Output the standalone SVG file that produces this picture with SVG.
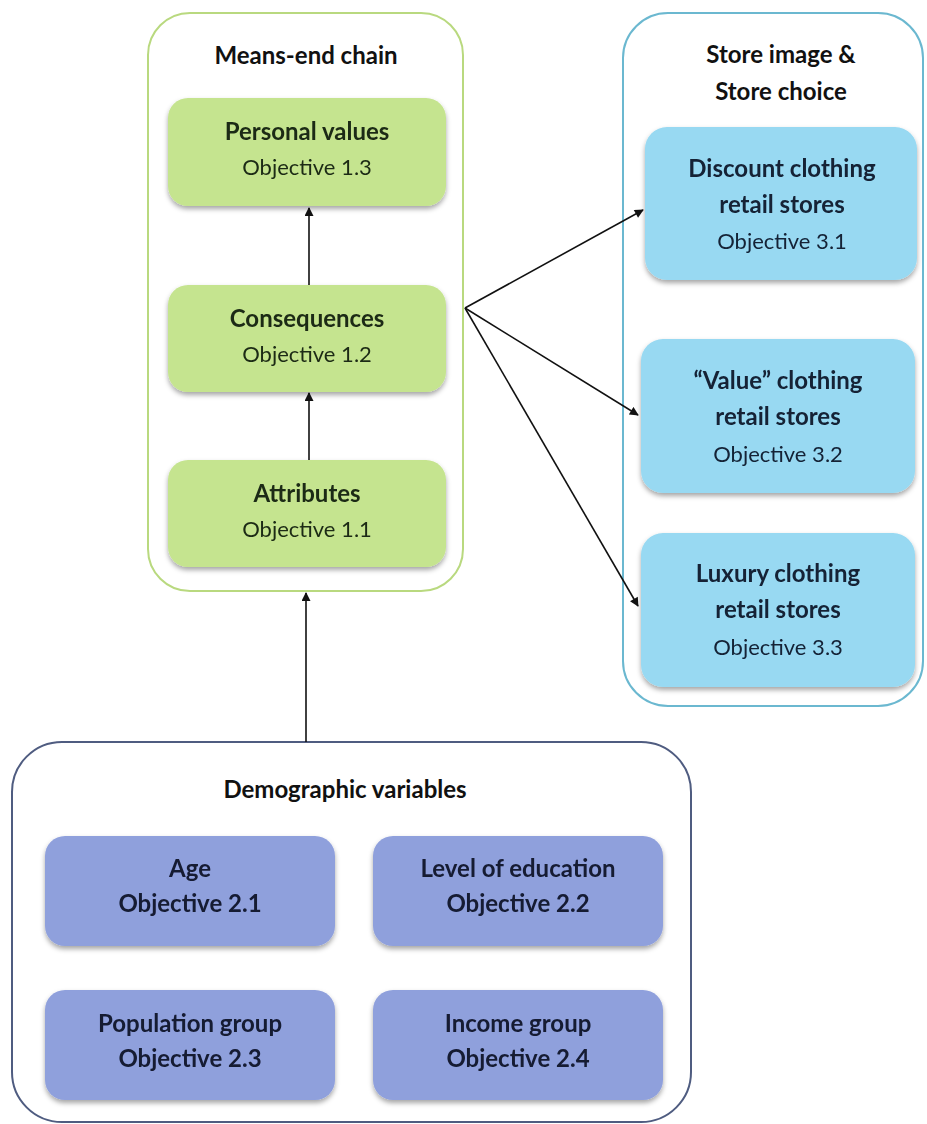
<svg xmlns="http://www.w3.org/2000/svg" width="927" height="1124" viewBox="0 0 927 1124">
  <style>
    .t { font-family: Lato, "Open Sans", "Liberation Sans", sans-serif; font-size: 22px; text-anchor: middle; }
    .b { font-weight: bold; font-size: 24px; }
    .green { fill: #c5e48f; }
    .blue { fill: #98d9f2; }
    .purple { fill: #8fa0dc; }
    .gtext { fill: #1c2a14; }
    .btext { fill: #122236; }
    .ptext { fill: #141a33; }
    .conn { stroke: #111; stroke-width: 1.6; fill: none; marker-end: url(#arrow); }
  </style>
  <defs>
    <marker id="arrow" viewBox="0 0 10 10" refX="9" refY="5" markerWidth="10" markerHeight="9" orient="auto-start-reverse" markerUnits="userSpaceOnUse">
      <path d="M0,0 L10,5 L0,10 z" fill="#111"/>
    </marker>
    <filter id="shadow" x="-10%" y="-10%" width="120%" height="130%">
      <feDropShadow dx="0" dy="3" stdDeviation="2.5" flood-color="#000" flood-opacity="0.35"/>
    </filter>
  </defs>
  <rect width="927" height="1124" fill="#fff"/>

  <!-- Means-end chain container -->
  <g id="means-end-chain">
    <rect x="148" y="13" width="315" height="578" rx="42" fill="#fff" stroke="#b9d97f" stroke-width="2"/>
    <text class="t b" x="306" y="64" fill="#111">Means-end chain</text>
  </g>
  <g id="personal-values" filter="url(#shadow)">
    <rect class="green" x="168" y="98" width="278" height="108" rx="20"/>
    <text class="t b gtext" x="307" y="140">Personal values</text>
    <text class="t gtext" x="307" y="175">Objective 1.3</text>
  </g>
  <g id="consequences" filter="url(#shadow)">
    <rect class="green" x="168" y="285" width="278" height="107" rx="20"/>
    <text class="t b gtext" x="307" y="327">Consequences</text>
    <text class="t gtext" x="307" y="362">Objective 1.2</text>
  </g>
  <g id="attributes" filter="url(#shadow)">
    <rect class="green" x="168" y="460" width="278" height="107" rx="20"/>
    <text class="t b gtext" x="307" y="502">Attributes</text>
    <text class="t gtext" x="307" y="537">Objective 1.1</text>
  </g>

  <!-- Store image & store choice container -->
  <g id="store-choice">
    <rect x="623" y="13" width="300" height="693" rx="45" fill="#fff" stroke="#6bb8d0" stroke-width="2"/>
    <text class="t b" x="781" y="63" fill="#111">Store image &amp;</text>
    <text class="t b" x="781" y="100" fill="#111">Store choice</text>
  </g>
  <g id="discount-stores" filter="url(#shadow)">
    <rect class="blue" x="645" y="127" width="272" height="153" rx="22"/>
    <text class="t b btext" x="782" y="177">Discount clothing</text>
    <text class="t b btext" x="782" y="213">retail stores</text>
    <text class="t btext" x="782" y="249">Objective 3.1</text>
  </g>
  <g id="value-stores" filter="url(#shadow)">
    <rect class="blue" x="641" y="339" width="274" height="154" rx="22"/>
    <text class="t b btext" x="778" y="389">“Value” clothing</text>
    <text class="t b btext" x="778" y="425">retail stores</text>
    <text class="t btext" x="778" y="462">Objective 3.2</text>
  </g>
  <g id="luxury-stores" filter="url(#shadow)">
    <rect class="blue" x="641" y="533" width="274" height="154" rx="22"/>
    <text class="t b btext" x="778" y="582">Luxury clothing</text>
    <text class="t b btext" x="778" y="618">retail stores</text>
    <text class="t btext" x="778" y="655">Objective 3.3</text>
  </g>

  <!-- Demographic variables container -->
  <g id="demographics">
    <rect x="12" y="742" width="679" height="380" rx="50" fill="#fff" stroke="#4f5c80" stroke-width="2"/>
    <text class="t b" x="345" y="798" fill="#111">Demographic variables</text>
  </g>
  <g id="age" filter="url(#shadow)">
    <rect class="purple" x="45" y="836" width="290" height="110" rx="20"/>
    <text class="t b ptext" x="190" y="877">Age</text>
    <text class="t b ptext" x="190" y="912">Objective 2.1</text>
  </g>
  <g id="education" filter="url(#shadow)">
    <rect class="purple" x="373" y="836" width="290" height="110" rx="20"/>
    <text class="t b ptext" x="518" y="877">Level of education</text>
    <text class="t b ptext" x="518" y="912">Objective 2.2</text>
  </g>
  <g id="population" filter="url(#shadow)">
    <rect class="purple" x="45" y="990" width="290" height="110" rx="20"/>
    <text class="t b ptext" x="190" y="1032">Population group</text>
    <text class="t b ptext" x="190" y="1067">Objective 2.3</text>
  </g>
  <g id="income" filter="url(#shadow)">
    <rect class="purple" x="373" y="990" width="290" height="110" rx="20"/>
    <text class="t b ptext" x="518" y="1032">Income group</text>
    <text class="t b ptext" x="518" y="1067">Objective 2.4</text>
  </g>

  <!-- Connectors -->
  <g id="connectors">
    <line class="conn" x1="309" y1="285" x2="309" y2="208"/>
    <line class="conn" x1="309" y1="460" x2="309" y2="393"/>
    <line class="conn" x1="306" y1="742" x2="306" y2="593"/>
    <line class="conn" x1="465" y1="308" x2="643" y2="210"/>
    <line class="conn" x1="465" y1="308" x2="638" y2="415"/>
    <line class="conn" x1="465" y1="308" x2="638" y2="606"/>
  </g>
</svg>
